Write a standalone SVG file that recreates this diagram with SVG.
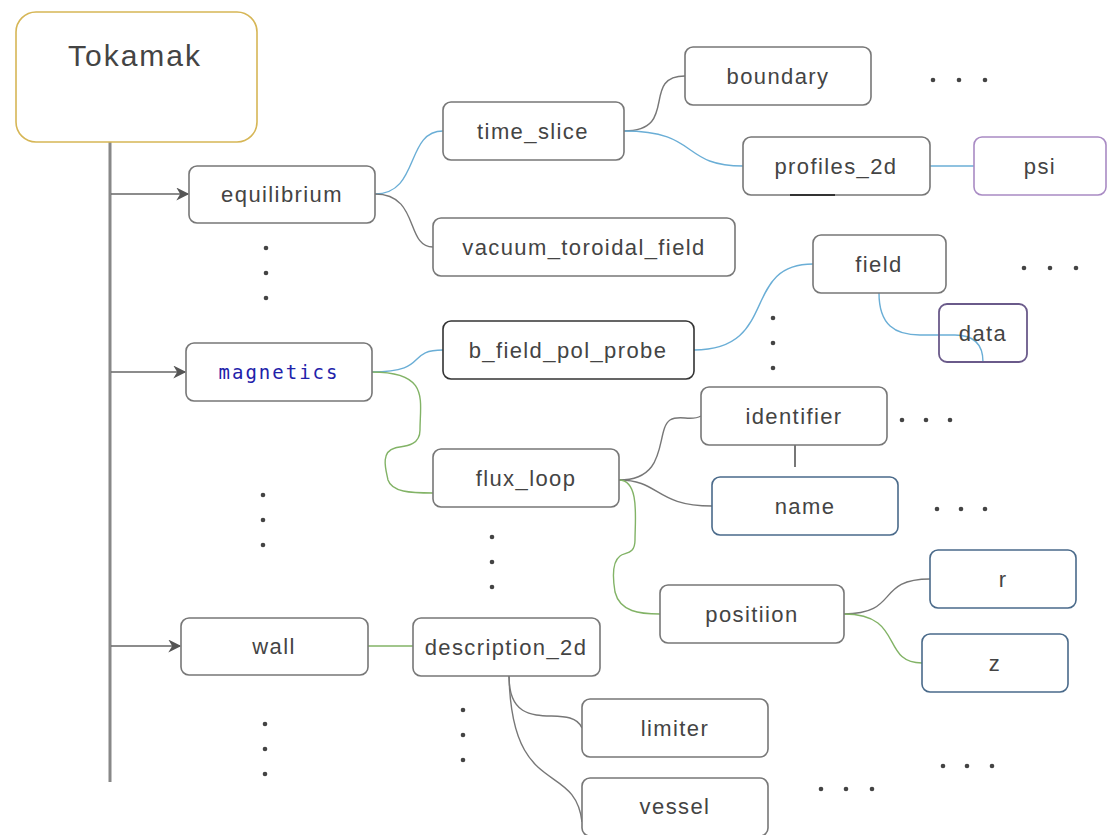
<svg xmlns="http://www.w3.org/2000/svg" width="1107" height="835" viewBox="0 0 1107 835">
<defs>
<style>
.n{fill:#fff;stroke:#777;stroke-width:1.6}
.t{font-family:"Liberation Sans",Arial,sans-serif;font-size:22px;letter-spacing:1.4px;fill:#444;text-anchor:middle;dominant-baseline:central}
.g{fill:none;stroke:#777;stroke-width:1.4}
.b{fill:none;stroke:#6aaed6;stroke-width:1.4}
.gr{fill:none;stroke:#82b366;stroke-width:1.4}
.d{fill:#444}
</style>
<marker id="ar" viewBox="0 0 10 10" refX="9" refY="5" markerWidth="15" markerHeight="13" markerUnits="userSpaceOnUse" orient="auto">
<path d="M0,0 L10,5 L0,10 L3,5 Z" fill="#555"/>
</marker>
</defs>
<rect width="1107" height="835" fill="#fff"/>
<g id="connectors">
<line x1="110" y1="142" x2="110" y2="782" stroke="#888" stroke-width="3"/>
<line x1="111" y1="194" x2="188" y2="194" stroke="#666" stroke-width="1.4" marker-end="url(#ar)"/>
<line x1="111" y1="372" x2="185" y2="372" stroke="#666" stroke-width="1.4" marker-end="url(#ar)"/>
<line x1="111" y1="646" x2="180" y2="646" stroke="#666" stroke-width="1.4" marker-end="url(#ar)"/>
<path class="b" d="M375,194 C420,194 405,131 443,131"/>
<path class="g" d="M375,194 C420,194 405,247 433,247"/>
<path class="g" d="M624,131 C680,131 640,76 685,76"/>
<path class="b" d="M624,131 C700,131 680,166 743,166"/>
<line class="b" x1="930" y1="166" x2="974" y2="166"/>
<path class="b" d="M372,372 C430,372 405,350 443,350"/>
<path class="gr" d="M372,372 C430,372 420,400 420,430 C420,448 400,446 395,448 C380,452 386,470 388,480 C392,492 410,493 433,493"/>
<path class="b" d="M694,350 C780,350 740,264 813,264"/>
<path class="b" d="M879,293 C879,325 895,335 920,335 L955,335 C975,335 983,345 983,362"/>
<path class="g" d="M619,480 C670,480 655,430 670,420 C680,414 690,422 701,416"/>
<path class="g" d="M619,480 C660,480 655,506 712,506"/>
<line x1="795" y1="445" x2="795" y2="467" stroke="#555" stroke-width="1.6"/>
<path class="gr" d="M619,480 C640,480 635,520 635,540 C635,555 625,552 620,556 C612,562 613,580 615,592 C620,612 640,614 660,614"/>
<path class="g" d="M844,614 C900,614 875,579 930,579"/>
<path class="gr" d="M844,614 C905,614 880,663 922,663"/>
<line class="gr" x1="368" y1="646" x2="413" y2="646"/>
<path class="g" d="M509,676 C509,740 570,700 582,728"/>
<path class="g" d="M509,676 C512,800 575,760 582,822"/>
</g>
<g id="tokamak"><rect x="16" y="12" width="241" height="130" rx="20" fill="#fff" stroke="#d6b656" stroke-width="1.6"/><text class="t" x="135" y="55" style="font-size:30px;letter-spacing:2px">Tokamak</text></g>
<g id="equilibrium"><rect class="n" x="189" y="166" width="186" height="57" rx="8"/><text class="t" x="282" y="194">equilibrium</text></g>
<g id="magnetics"><rect class="n" x="186" y="343" width="186" height="58" rx="8"/><text x="279" y="372" style="font-family:'DejaVu Sans Mono','Liberation Mono',monospace;font-size:19px;letter-spacing:2px;fill:#2222aa;text-anchor:middle;dominant-baseline:central">magnetics</text></g>
<g id="wall"><rect class="n" x="181" y="618" width="187" height="57" rx="8"/><text class="t" x="274" y="646">wall</text></g>
<g id="time_slice"><rect class="n" x="443" y="102" width="181" height="58" rx="8"/><text class="t" x="533" y="131">time_slice</text></g>
<g id="vacuum_toroidal_field"><rect class="n" x="433" y="218" width="302" height="58" rx="8"/><text class="t" x="584" y="247">vacuum_toroidal_field</text></g>
<g id="boundary"><rect class="n" x="685" y="47" width="186" height="58" rx="8"/><text class="t" x="778" y="76">boundary</text></g>
<g id="profiles_2d"><rect class="n" x="743" y="137" width="187" height="58" rx="8"/><line x1="790" y1="195" x2="835" y2="195" stroke="#333" stroke-width="2"/><text class="t" x="836" y="166">profiles_2d</text></g>
<g id="psi"><rect x="974" y="137" width="132" height="58" rx="8" fill="#fff" stroke="#a98bc4" stroke-width="1.6"/><text class="t" x="1040" y="166">psi</text></g>
<g id="field"><rect class="n" x="813" y="235" width="133" height="58" rx="8"/><text class="t" x="879" y="264">field</text></g>
<g id="data"><rect x="939" y="304" width="88" height="58" rx="8" fill="none" stroke="#6a5a8a" stroke-width="1.8"/><text class="t" x="983" y="333">data</text></g>
<g id="b_field_pol_probe"><rect x="443" y="321" width="251" height="58" rx="8" fill="#fff" stroke="#333" stroke-width="1.6"/><text class="t" x="568" y="350">b_field_pol_probe</text></g>
<g id="identifier"><rect class="n" x="701" y="387" width="186" height="58" rx="8"/><text class="t" x="794" y="416">identifier</text></g>
<g id="name"><rect x="712" y="477" width="186" height="58" rx="8" fill="#fff" stroke="#4a6a8a" stroke-width="1.6"/><text class="t" x="805" y="506">name</text></g>
<g id="flux_loop"><rect class="n" x="433" y="449" width="186" height="58" rx="8"/><text class="t" x="526" y="478">flux_loop</text></g>
<g id="positiion"><rect class="n" x="660" y="585" width="184" height="58" rx="8"/><text class="t" x="752" y="614">positiion</text></g>
<g id="r"><rect x="930" y="550" width="146" height="58" rx="8" fill="#fff" stroke="#4a6a8a" stroke-width="1.6"/><text class="t" x="1003" y="579">r</text></g>
<g id="z"><rect x="922" y="634" width="146" height="58" rx="8" fill="#fff" stroke="#4a6a8a" stroke-width="1.6"/><text class="t" x="995" y="663">z</text></g>
<g id="description_2d"><rect class="n" x="413" y="618" width="187" height="58" rx="8"/><text class="t" x="506" y="647">description_2d</text></g>
<g id="limiter"><rect class="n" x="582" y="699" width="186" height="58" rx="8"/><text class="t" x="675" y="728">limiter</text></g>
<g id="vessel"><rect class="n" x="582" y="778" width="186" height="58" rx="8"/><text class="t" x="675" y="806">vessel</text></g>
<g id="dots">
<circle class="d" cx="266" cy="248" r="2.3"/><circle class="d" cx="266" cy="273" r="2.3"/><circle class="d" cx="266" cy="298" r="2.3"/>
<circle class="d" cx="263" cy="495" r="2.3"/><circle class="d" cx="263" cy="520" r="2.3"/><circle class="d" cx="263" cy="545" r="2.3"/>
<circle class="d" cx="492" cy="537" r="2.3"/><circle class="d" cx="492" cy="562" r="2.3"/><circle class="d" cx="492" cy="587" r="2.3"/>
<circle class="d" cx="265" cy="724" r="2.3"/><circle class="d" cx="265" cy="749" r="2.3"/><circle class="d" cx="265" cy="774" r="2.3"/>
<circle class="d" cx="463" cy="710" r="2.3"/><circle class="d" cx="463" cy="735" r="2.3"/><circle class="d" cx="463" cy="760" r="2.3"/>
<circle class="d" cx="773" cy="318" r="2.3"/><circle class="d" cx="773" cy="343" r="2.3"/><circle class="d" cx="773" cy="368" r="2.3"/>
<circle class="d" cx="933" cy="80" r="2.3"/><circle class="d" cx="959" cy="80" r="2.3"/><circle class="d" cx="985" cy="80" r="2.3"/>
<circle class="d" cx="1024" cy="268" r="2.3"/><circle class="d" cx="1050" cy="268" r="2.3"/><circle class="d" cx="1076" cy="268" r="2.3"/>
<circle class="d" cx="902" cy="420" r="2.3"/><circle class="d" cx="926" cy="420" r="2.3"/><circle class="d" cx="950" cy="420" r="2.3"/>
<circle class="d" cx="937" cy="509" r="2.3"/><circle class="d" cx="961" cy="509" r="2.3"/><circle class="d" cx="985" cy="509" r="2.3"/>
<circle class="d" cx="943" cy="766" r="2.3"/><circle class="d" cx="967" cy="766" r="2.3"/><circle class="d" cx="992" cy="766" r="2.3"/>
<circle class="d" cx="821" cy="789" r="2.3"/><circle class="d" cx="846" cy="789" r="2.3"/><circle class="d" cx="872" cy="789" r="2.3"/>
</g>
</svg>
